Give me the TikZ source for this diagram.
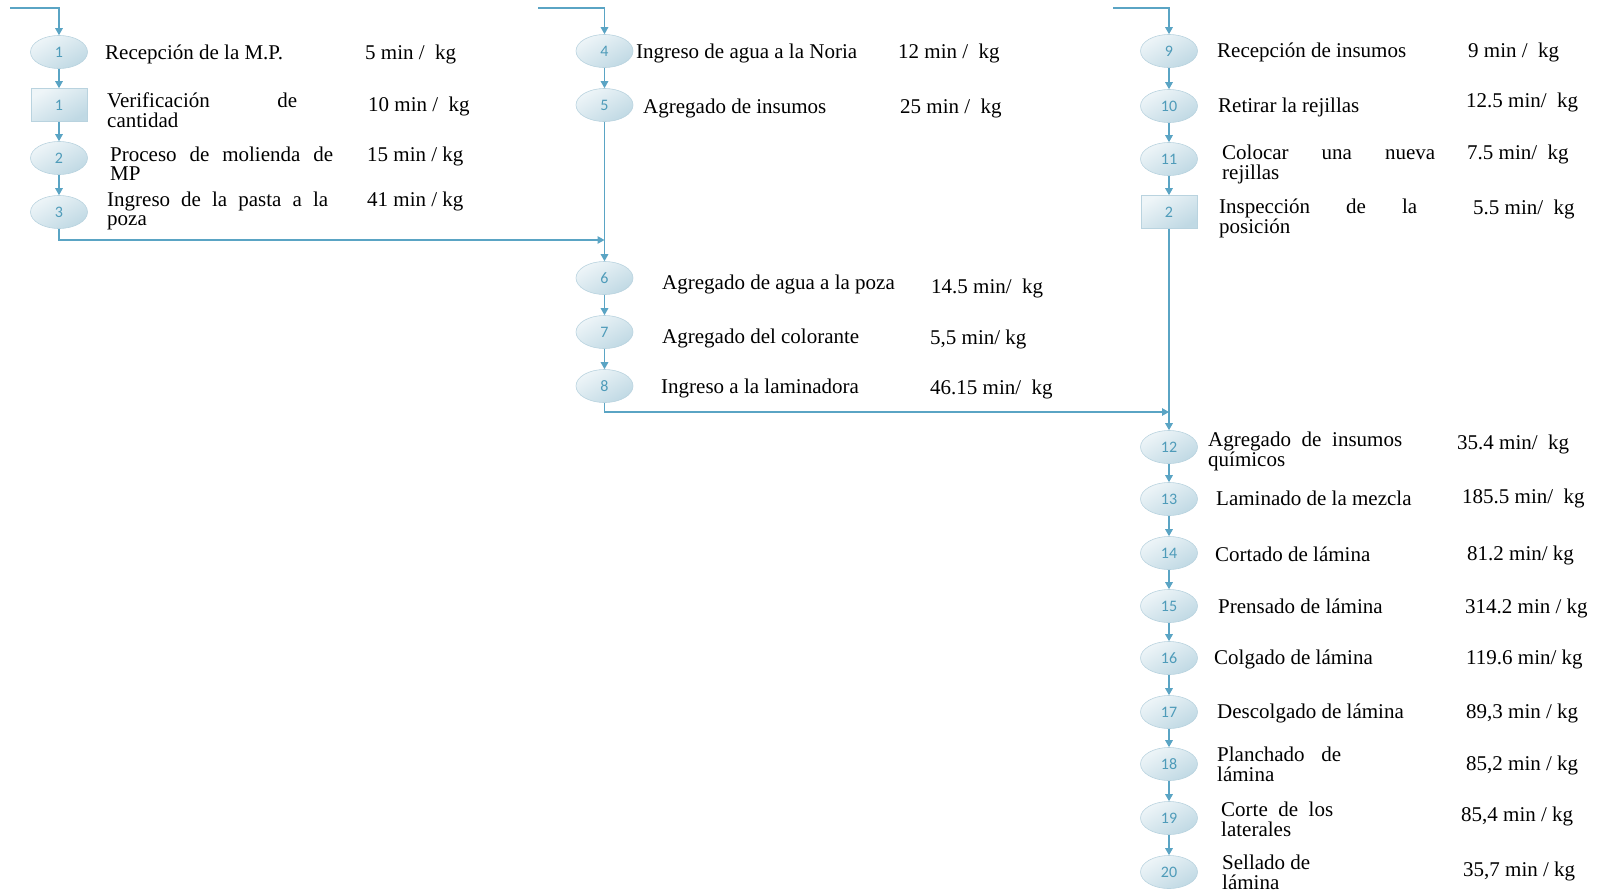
\documentclass[tikz,border=0pt]{standalone}
\usepackage{fontspec}
\setmainfont{Liberation Serif}
\newfontfamily\numfont{Carlito}
\usetikzlibrary{arrows.meta,shapes.geometric}

\definecolor{flowline}{HTML}{5AA4C4}
\definecolor{shapelight}{HTML}{EEF5F8}
\definecolor{shapedark}{HTML}{C0D9E4}
\definecolor{shapeedge}{HTML}{B9D3DF}
\definecolor{numblue}{HTML}{4E9BB9}

% first line stretched to a given width, second line ragged
\newcommand{\spreadpair}[3]{\begin{tabular}[t]{@{}l@{}}\makebox[#1][s]{#2}\\#3\end{tabular}}
\newcommand{\plainpair}[2]{\begin{tabular}[t]{@{}l@{}}#1\\#2\end{tabular}}

\tikzset{
  stepshade/.style={draw=shapeedge, line width=0.6pt, top color=shapelight,
    bottom color=shapedark, shading angle=30, inner sep=0pt,
    text=numblue, font=\numfont\fontsize{16}{16}\selectfont},
  opstep/.style={stepshade, ellipse, minimum width=57pt, minimum height=33pt},
  inspstep/.style={stepshade, rectangle, minimum width=56pt, minimum height=33pt},
  steptext/.style={anchor=base west, inner sep=0pt, font=\fontsize{21}{19.5}\selectfont},
  flow/.style={draw=flowline, line width=1.3pt, -{Triangle[length=7pt,width=7.5pt]}},
}

\begin{document}
\begin{tikzpicture}[x=1pt,y=-1pt]
\useasboundingbox (0,0) rectangle (1598,892);

% ---------- column 1: raw material ----------
\coordinate (in1) at (10,8);
\node[opstep]   (op1)   at (59,52)  {1};
\node[inspstep] (insp1) at (59,105) {1};
\node[opstep]   (op2)   at (59,158) {2};
\node[opstep]   (op3)   at (59,212) {3};

\node[steptext] (t1) at (105,59) {Recepción de la M.P.};
\node[steptext] (m1) at (365,59) {5 min /~ kg};
\node[steptext] (ti1) at (107,107) {\spreadpair{190pt}{Verificación de}{cantidad}};
\node[steptext] (mi1) at (368,111) {10 min /~ kg};
\node[steptext] (t2) at (110,161) {\spreadpair{223pt}{Proceso de molienda de}{MP}};
\node[steptext] (m2) at (367,161) {15 min / kg};
\node[steptext] (t3) at (107,206) {\spreadpair{221pt}{Ingreso de la pasta a la}{poza}};
\node[steptext] (m3) at (367,206) {41 min / kg};

% ---------- column 2: water and dye ----------
\coordinate (in2) at (538,8);
\node[opstep] (op4) at (604.5,51)  {4};
\node[opstep] (op5) at (604.5,105) {5};
\coordinate (j1) at (604.5,240);
\node[opstep] (op6) at (604.5,278) {6};
\node[opstep] (op7) at (604.5,332) {7};
\node[opstep] (op8) at (604.5,386) {8};

\node[steptext] (t4) at (636,58)  {Ingreso de agua a la Noria};
\node[steptext] (m4) at (898,58)  {12 min /~ kg};
\node[steptext] (t5) at (643,113) {Agregado de insumos};
\node[steptext] (m5) at (900,113) {25 min /~ kg};
\node[steptext] (t6) at (662,289) {Agregado de agua a la poza};
\node[steptext] (m6) at (931,293) {14.5 min/~ kg};
\node[steptext] (t7) at (662,343) {Agregado del colorante};
\node[steptext] (m7) at (930,344) {5,5 min/ kg};
\node[steptext] (t8) at (661,393) {Ingreso a la laminadora};
\node[steptext] (m8) at (930,394) {46.15 min/~ kg};

% ---------- column 3: supplies and sheet line ----------
\coordinate (in3) at (1113,8);
\node[opstep]   (op9)   at (1169,51)  {9};
\node[opstep]   (op10)  at (1169,106) {10};
\node[opstep]   (op11)  at (1169,159) {11};
\node[inspstep] (insp2) at (1169,212) {2};
\coordinate (j2) at (1169,412);
\node[opstep] (op12) at (1169,447) {12};
\node[opstep] (op13) at (1169,499) {13};
\node[opstep] (op14) at (1169,553) {14};
\node[opstep] (op15) at (1169,606) {15};
\node[opstep] (op16) at (1169,658) {16};
\node[opstep] (op17) at (1169,712) {17};
\node[opstep] (op18) at (1169,764) {18};
\node[opstep] (op19) at (1169,818) {19};
\node[opstep] (op20) at (1169,872) {20};

\node[steptext] (t9)  at (1217,57)  {Recepción de insumos};
\node[steptext] (m9)  at (1468,57)  {9 min /~ kg};
\node[steptext] (t10) at (1218,112) {Retirar la rejillas};
\node[steptext] (m10) at (1466,107) {12.5 min/~ kg};
\node[steptext] (t11) at (1222,159) {\spreadpair{213pt}{Colocar una nueva}{rejillas}};
\node[steptext] (m11) at (1467,159) {7.5 min/~ kg};
\node[steptext] (ti2) at (1219,213) {\spreadpair{198pt}{Inspección de la}{posición}};
\node[steptext] (mi2) at (1473,214) {5.5 min/~ kg};
\node[steptext] (t12) at (1208,446) {\spreadpair{194pt}{Agregado de insumos}{químicos}};
\node[steptext] (m12) at (1457,449) {35.4 min/~ kg};
\node[steptext] (t13) at (1216,505) {Laminado de la mezcla};
\node[steptext] (m13) at (1462,503) {185.5 min/~ kg};
\node[steptext] (t14) at (1215,561) {Cortado de lámina};
\node[steptext] (m14) at (1467,560) {81.2 min/ kg};
\node[steptext] (t15) at (1218,613) {Prensado de lámina};
\node[steptext] (m15) at (1465,613) {314.2 min / kg};
\node[steptext] (t16) at (1214,664) {Colgado de lámina};
\node[steptext] (m16) at (1466,664) {119.6 min/ kg};
\node[steptext] (t17) at (1217,718) {Descolgado de lámina};
\node[steptext] (m17) at (1466,718) {89,3 min / kg};
\node[steptext] (t18) at (1217,761) {\spreadpair{124pt}{Planchado de}{lámina}};
\node[steptext] (m18) at (1466,770) {85,2 min / kg};
\node[steptext] (t19) at (1221,816) {\spreadpair{112pt}{Corte de los}{laterales}};
\node[steptext] (m19) at (1461,821) {85,4 min / kg};
\node[steptext, text depth=0pt] (t20) at (1222,869) {\plainpair{Sellado de}{lámina}};
\node[steptext] (m20) at (1463,876) {35,7 min / kg};

% ---------- connectors ----------
\draw[flow] (in1) -| (op1);
\draw[flow] (op1) -- (insp1);
\draw[flow] (insp1) -- (op2);
\draw[flow] (op2) -- (op3);
\draw[flow] (op3) |- (j1);

\draw[flow] (in2) -| (op4);
\draw[flow] (op4) -- (op5);
\draw[flow] (op5) -- (op6);
\draw[flow] (op6) -- (op7);
\draw[flow] (op7) -- (op8);
\draw[flow] (op8) |- (j2);

\draw[flow] (in3) -| (op9);
\draw[flow] (op9) -- (op10);
\draw[flow] (op10) -- (op11);
\draw[flow] (op11) -- (insp2);
\draw[flow] (insp2) -- (op12);
\draw[flow] (op12) -- (op13);
\draw[flow] (op13) -- (op14);
\draw[flow] (op14) -- (op15);
\draw[flow] (op15) -- (op16);
\draw[flow] (op16) -- (op17);
\draw[flow] (op17) -- (op18);
\draw[flow] (op18) -- (op19);
\draw[flow] (op19) -- (op20);
\end{tikzpicture}
\end{document}
